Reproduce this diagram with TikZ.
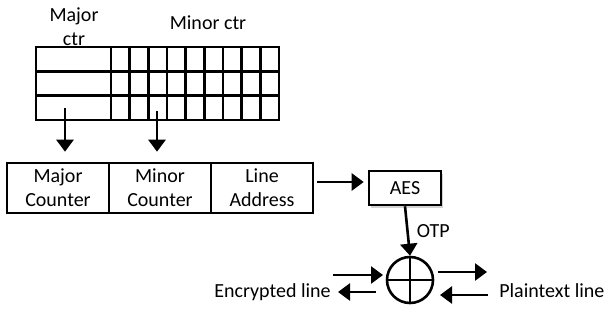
\documentclass[tikz,border=0pt]{standalone}
\usepackage{fontspec}
\setmainfont{Carlito}
\usetikzlibrary{arrows.meta,shadows}

\begin{document}
\begin{tikzpicture}[x=1pt,y=-1pt,line width=2.6pt,
  every node/.style={inner sep=0pt,font=\fontsize{20}{24}\selectfont},
  ctrbox/.style={draw=black,minimum width=102pt,minimum height=50pt,align=center},
  arr/.style={-{Triangle[length=12pt,width=17pt]}}]
\useasboundingbox (0,0) rectangle (609,320);
% counter block
\draw (36,47) rectangle (279,120);
\draw (111,47) -- (111,120);
\foreach \i in {1,...,8} \draw ({111+\i*18.67},47) -- ({111+\i*18.67},120);
\foreach \r in {71.5,95.5} \draw (36,\r) -- (279,\r);
\node (majlbl) at (74,27) [align=center] {Major\\ctr};
\node (minlbl) at (208,23) {Minor ctr};
\coordinate (majsrc) at (65,108);
\coordinate (minsrc) at (157,111);
% seed
\node (major) at (58,188) [ctrbox] {Major\\Counter};
\node (minor) at (160,188) [ctrbox] {Minor\\Counter};
\node (addr) at (262,188) [ctrbox] {Line\\Address};
\draw[arr,shorten >=10pt] (majsrc) -- (majsrc |- major.north);
\draw[arr,shorten >=10pt] (minsrc) -- (minsrc |- minor.north);
\node (aes) at (405,188) [draw=black,fill=white,minimum width=72pt,minimum height=34pt,
  drop shadow={shadow xshift=2pt,shadow yshift=-3pt,opacity=0.35}] {AES};
\draw[arr,shorten <=3pt,shorten >=4pt] ([yshift=6pt]addr.east) -- ([yshift=6pt]aes.west);
% xor
\node (xor) at (410,280) [circle,draw=black,minimum size=46pt] {};
\draw (xor.north) -- (xor.south);
\draw (xor.west) -- (xor.east);
\draw[arr] (aes.south) -- (xor.north) node[midway,right=8pt] (otp) {OTP};
\coordinate (encin) at (333,275);
\coordinate (encto) at (383,275);
\coordinate (encout) at (376,292);
\coordinate (encend) at (338,292);
\coordinate (ptout) at (438,272);
\coordinate (ptend) at (487,272);
\coordinate (ptin) at (488,295);
\coordinate (ptto) at (440,295);
\draw[arr] (encin) -- (encto);
\draw[arr] (encout) -- (encend);
\draw[arr] (ptout) -- (ptend);
\draw[arr] (ptin) -- (ptto);
\node (enc) at (332,297) [anchor=base east] {Encrypted line};
\node (plain) at (498,297) [anchor=base west] {Plaintext line};
\end{tikzpicture}
\end{document}
